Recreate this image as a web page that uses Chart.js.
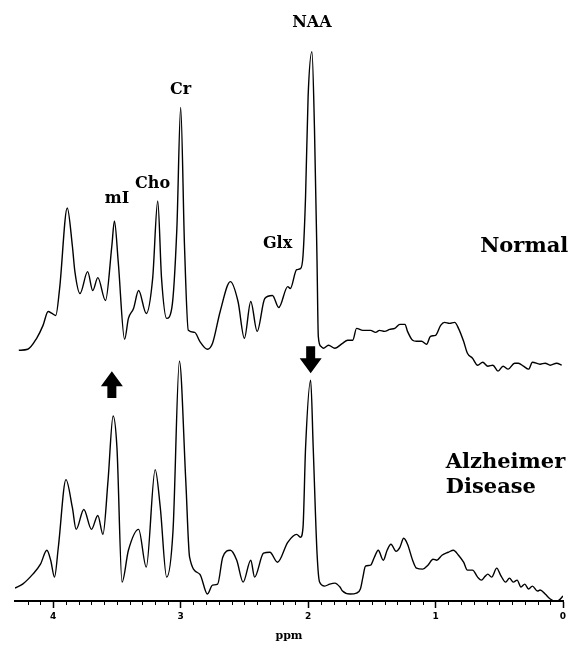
<!DOCTYPE html>
<html>
<head>
<meta charset="utf-8">
<script src="https://cdn.jsdelivr.net/npm/chart.js@4.4.0/dist/chart.umd.min.js"></script>
<style>
	body { margin: 0; background: #fff; }
	#wrap { width: 570px; height: 650px; }
</style>
</head>
<body>
<div id="wrap"><canvas id="spectrum"></canvas></div>
<script>
// Chemical shift (ppm) and signal intensity (a.u.)
const normalPpm = [4.27, 4.20, 4.13, 4.08, 4.04, 4.01, 3.98, 3.95, 3.89, 3.85, 3.83, 3.79, 3.73, 3.69, 3.65, 3.59, 3.54, 3.52, 3.49, 3.44, 3.41, 3.37, 3.33, 3.27, 3.22, 3.18, 3.15, 3.11, 3.07, 3.03, 3.00, 2.97, 2.94, 2.89, 2.85, 2.79, 2.75, 2.69, 2.61, 2.55, 2.50, 2.45, 2.40, 2.34, 2.28, 2.23, 2.16, 2.14, 2.09, 2.06, 2.04, 2.02, 2.00, 1.97, 1.95, 1.93, 1.92, 1.90, 1.88, 1.84, 1.79, 1.73, 1.69, 1.65, 1.62, 1.57, 1.51, 1.47, 1.44, 1.40, 1.36, 1.32, 1.28, 1.24, 1.22, 1.18, 1.15, 1.11, 1.07, 1.04, 1.00, 0.96, 0.93, 0.89, 0.85, 0.82, 0.78, 0.75, 0.71, 0.67, 0.63, 0.59, 0.55, 0.51, 0.47, 0.43, 0.38, 0.35, 0.31, 0.27, 0.24, 0.18, 0.14, 0.10, 0.05, 0.01];
const normalInt = [252, 253, 264, 277, 291, 289, 287, 314, 395, 357, 331, 309, 331, 312, 325, 302, 357, 382, 341, 263, 284, 294, 312, 289, 324, 402, 324, 284, 294, 374, 496, 357, 272, 270, 261, 253, 259, 291, 321, 301, 264, 301, 271, 304, 307, 295, 316, 314, 333, 334, 347, 407, 507, 552, 474, 341, 266, 256, 254, 257, 254, 259, 262, 262, 274, 272, 272, 270, 272, 271, 273, 274, 278, 278, 271, 262, 261, 261, 258, 266, 267, 277, 280, 279, 280, 274, 261, 249, 244, 237, 240, 236, 237, 231, 236, 233, 239, 239, 236, 233, 240, 238, 239, 237, 239, 237];

const adPpm = [4.30, 4.24, 4.16, 4.10, 4.05, 4.02, 3.99, 3.96, 3.90, 3.85, 3.82, 3.76, 3.70, 3.65, 3.61, 3.57, 3.53, 3.50, 3.46, 3.41, 3.33, 3.27, 3.20, 3.16, 3.11, 3.06, 3.01, 2.96, 2.93, 2.85, 2.79, 2.75, 2.71, 2.67, 2.61, 2.56, 2.51, 2.45, 2.42, 2.35, 2.30, 2.24, 2.16, 2.09, 2.06, 2.04, 2.02, 1.98, 1.96, 1.93, 1.91, 1.87, 1.83, 1.79, 1.75, 1.73, 1.67, 1.62, 1.59, 1.57, 1.55, 1.51, 1.48, 1.45, 1.41, 1.38, 1.35, 1.31, 1.28, 1.25, 1.22, 1.18, 1.15, 1.10, 1.06, 1.02, 0.99, 0.95, 0.90, 0.86, 0.82, 0.78, 0.75, 0.71, 0.67, 0.64, 0.61, 0.59, 0.56, 0.52, 0.49, 0.45, 0.42, 0.39, 0.36, 0.33, 0.30, 0.27, 0.24, 0.20, 0.18, 0.14, 0.10, 0.06, 0.03, 0.00];
const adInt = [13, 17, 27, 37, 51, 41, 24, 54, 122, 94, 72, 92, 72, 86, 67, 121, 186, 154, 19, 51, 72, 34, 132, 94, 24, 71, 241, 121, 44, 27, 7, 16, 17, 44, 51, 41, 19, 41, 24, 48, 49, 39, 59, 67, 64, 74, 154, 222, 154, 48, 19, 15, 17, 18, 14, 10, 7, 8, 12, 24, 35, 36, 44, 51, 41, 51, 57, 50, 54, 63, 57, 41, 33, 32, 36, 42, 41, 46, 49, 51, 46, 39, 31, 31, 24, 21, 25, 27, 24, 33, 26, 19, 23, 19, 21, 14, 17, 12, 15, 10, 11, 7, 2, 0, 1, 5];

const tickValues = [0, 1, 2, 3, 4];

// Peak names and where they sit (ppm, a.u.)
const peakNames = ["mI", "Cho", "Cr", "Glx", "NAA"];
const peakPpm = [3.50, 3.22, 3.00, 2.24, 1.97];
const peakInt = [404, 419, 514, 359, 581];

// Up arrow (mI raised) and down arrow (NAA lowered): ppm, tip, tail
const arrowPpm = [3.54, 1.98];
const arrowTip = [231, 229];
const arrowTail = [204, 256];

function toPoints(xs, ys) {
	return xs.map((v, i) => ({ x: v, y: ys[i] }));
}

// Extra drawing: minor ticks, peak names, group names, arrows
const overlay = {
	id: "overlay",
	afterDraw(chart) {
		const { ctx, chartArea } = chart;
		const x = chart.scales.x;
		const y = chart.scales.y;
		ctx.save();

		// minor ticks every 0.1 ppm
		ctx.strokeStyle = "#000";
		ctx.lineWidth = 1;
		for (let i = 1; i < 43; i++) {
			if (i % 10 === 0) continue;
			const px = Math.round(x.getPixelForValue(i / 10)) + 0.5;
			ctx.beginPath();
			ctx.moveTo(px, chartArea.bottom);
			ctx.lineTo(px, chartArea.bottom + 4);
			ctx.stroke();
		}

		ctx.fillStyle = "#000";
		ctx.textAlign = "center";
		ctx.textBaseline = "middle";
		ctx.font = 'bold 16px "DejaVu Serif"';
		peakNames.forEach((name, i) => {
			ctx.fillText(name, x.getPixelForValue(peakPpm[i]), y.getPixelForValue(peakInt[i]));
		});

		ctx.font = 'bold 21px "DejaVu Serif"';
		ctx.textAlign = "left";
		ctx.fillText("Normal", x.getPixelForValue(0.65), y.getPixelForValue(356));
		ctx.fillText("Alzheimer", x.getPixelForValue(0.92), y.getPixelForValue(139));
		ctx.fillText("Disease", x.getPixelForValue(0.92), y.getPixelForValue(114));

		arrowPpm.forEach((p, i) => {
			const ax = x.getPixelForValue(p);
			const tip = y.getPixelForValue(arrowTip[i]);
			const tail = y.getPixelForValue(arrowTail[i]);
			const dir = tail > tip ? 1 : -1;
			const head = 15 * dir;
			ctx.beginPath();
			ctx.moveTo(ax, tip);
			ctx.lineTo(ax + 11, tip + head);
			ctx.lineTo(ax + 4.5, tip + head);
			ctx.lineTo(ax + 4.5, tail);
			ctx.lineTo(ax - 4.5, tail);
			ctx.lineTo(ax - 4.5, tip + head);
			ctx.lineTo(ax - 11, tip + head);
			ctx.closePath();
			ctx.fill();
		});

		ctx.restore();
	},
};

const lineStyle = {
	borderColor: "#000",
	borderWidth: 1.4,
	pointRadius: 0,
	fill: false,
	cubicInterpolationMode: "monotone",
};

new Chart(document.getElementById("spectrum"), {
	type: "line",
	data: {
		datasets: [
			{ label: "Normal", data: toPoints(normalPpm, normalInt), ...lineStyle },
			{ label: "Alzheimer Disease", data: toPoints(adPpm, adInt), ...lineStyle },
		],
	},
	options: {
		responsive: true,
		maintainAspectRatio: false,
		animation: false,
		layout: { padding: { top: 4, left: 15, right: 7, bottom: 7 } },
		plugins: {
			legend: { display: false },
			tooltip: { enabled: false },
		},
		scales: {
			x: {
				type: "linear",
				reverse: true,
				min: 0,
				max: 4.3,
				afterBuildTicks: (scale) => {
					scale.ticks = tickValues.map((v) => ({ value: v }));
				},
				border: { display: true, color: "#000", width: 2 },
				grid: {
					display: true,
					drawOnChartArea: false,
					color: "#000",
					tickLength: 7,
					tickWidth: 1.5,
				},
				ticks: {
					color: "#000",
					padding: 3,
					maxRotation: 0,
					font: { family: "DejaVu Sans", size: 9, weight: "bold" },
				},
				title: {
					display: true,
					text: "ppm",
					color: "#000",
					padding: { top: 5, bottom: 0 },
					font: { family: "DejaVu Serif", size: 11, weight: "bold" },
				},
			},
			y: {
				display: false,
				min: 0,
				max: 600,
			},
		},
	},
	plugins: [overlay],
});
</script>
</body>
</html>
